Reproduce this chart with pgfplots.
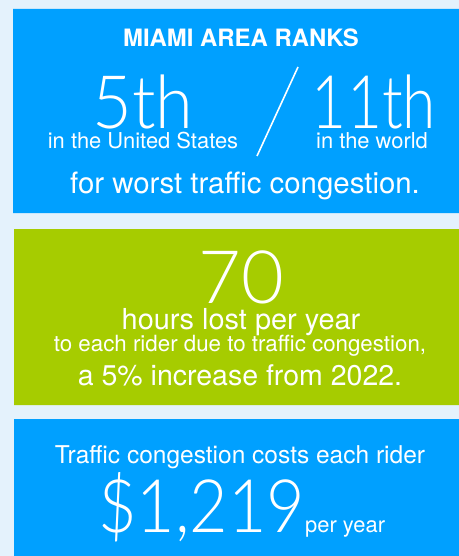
\documentclass[border=0pt]{standalone}
\usepackage{pgfplots}
\pgfplotsset{compat=1.18}
\usepackage{fontspec}
\setmainfont{TeX Gyre Heros}
\newfontfamily\lightfont{Lato Light}
\definecolor{bgblue}{RGB}{228,242,252}
\definecolor{boxblue}{RGB}{0,160,255}
\definecolor{boxgreen}{RGB}{166,204,0}
\newcommand{\fs}[1]{\fontsize{#1}{#1}\selectfont}
\begin{document}
\begin{tikzpicture}
\begin{axis}[
  width=459bp, height=556bp, scale only axis,
  xmin=0, xmax=459, ymin=0, ymax=556, y dir=reverse,
  hide axis, clip=false,
]
% background
\addplot[fill=bgblue, draw=none] coordinates {(0,0) (459,0) (459,556) (0,556) (0,0)};
% boxes
\addplot[fill=boxblue, draw=none] coordinates {(13,9) (459,9) (459,213) (13,213) (13,9)};
\addplot[fill=boxgreen, draw=none] coordinates {(14,229) (459,229) (459,405) (14,405) (14,229)};
\addplot[fill=boxblue, draw=none] coordinates {(14,419) (459,419) (459,556) (14,556) (14,419)};
% slash
\addplot[white, line width=1.6pt] coordinates {(298,67) (257,156)};
% texts box 1
\node[anchor=base, white, inner sep=0pt] at (axis cs:241,47) {\fs{24}\bfseries MIAMI AREA RANKS};
\node[anchor=base, white, inner sep=0pt, xscale=0.93] at (axis cs:143,128) {\fs{74}\lightfont 5th};
\node[anchor=base, white, inner sep=0pt, xscale=0.82] at (axis cs:374,128) {\fs{74}\lightfont 11th};
\node[anchor=base, white, inner sep=0pt] at (axis cs:143,148) {\fs{22}in the United States};
\node[anchor=base, white, inner sep=0pt] at (axis cs:372,148) {\fs{22}in the world};
\node[anchor=base, white, inner sep=0pt] at (axis cs:245,193) {\fs{29.5}for worst traffic congestion.};
% box 2
\node[anchor=base, white, inner sep=0pt] at (axis cs:241,303) {\fs{74}\lightfont 70};
\node[anchor=base, white, inner sep=0pt] at (axis cs:241,329) {\fs{29}hours lost per year};
\node[anchor=base, white, inner sep=0pt] at (axis cs:240,351) {\fs{22.4}to each rider due to traffic congestion,};
\node[anchor=base, white, inner sep=0pt] at (axis cs:240,385) {\fs{28.6}a 5\% increase from 2022.};
% box 3
\node[anchor=base, white, inner sep=0pt] at (axis cs:240,463) {\fs{24.6}Traffic congestion costs each rider};
\node[anchor=base west, white, inner sep=0pt, xscale=0.9] at (axis cs:98,532) {\fs{74}\lightfont \$1,219};
\node[anchor=base west, white, inner sep=0pt] at (axis cs:305,532) {\fs{22}per year};
\end{axis}
\end{tikzpicture}
\end{document}
